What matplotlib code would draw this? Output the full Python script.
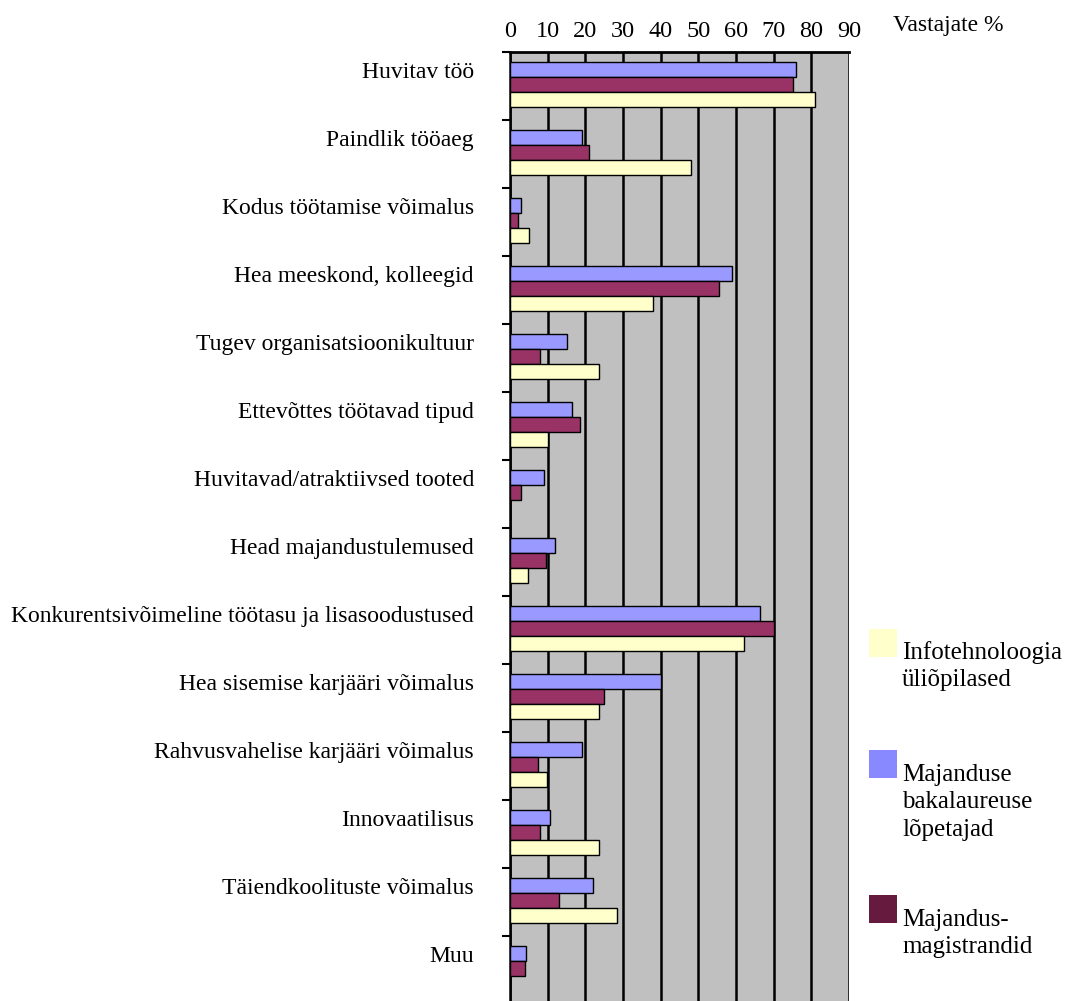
import numpy as np
import matplotlib
matplotlib.use("Agg")
import matplotlib.pyplot as plt
from matplotlib.patches import Rectangle

plt.rcParams['font.family'] = ['Liberation Serif', 'DejaVu Serif']

categories = [
    'Huvitav töö',
    'Paindlik tööaeg',
    'Kodus töötamise võimalus',
    'Hea meeskond, kolleegid',
    'Tugev organisatsioonikultuur',
    'Ettevõttes töötavad tipud',
    'Huvitavad/atraktiivsed tooted',
    'Head majandustulemused',
    'Konkurentsivõimeline töötasu ja lisasoodustused',
    'Hea sisemise karjääri võimalus',
    'Rahvusvahelise karjääri võimalus',
    'Innovaatilisus',
    'Täiendkoolituste võimalus',
    'Muu',
]

# vastajate % rühmade kaupa
bakalaureus = [76, 19, 3, 59, 15, 16.5, 9, 12, 66.5, 40, 19, 10.5, 22, 4.2]
magistrandid = [75, 21, 2, 55.5, 8, 18.5, 3, 9.5, 70, 25, 7.5, 8, 13, 4]
it_tudengid = [81, 48, 5, 38, 23.5, 10, 0, 4.7, 62, 23.5, 9.7, 23.5, 28.5, 0]

legend_labels = ['Infotehnoloogia\nüliõpilased',
                 'Majanduse\nbakalaureuse\nlõpetajad',
                 'Majandus-\nmagistrandid']

c_blue = '#9999ff'
c_maroon = '#993366'
c_yellow = '#ffffcc'

W, H = 1065, 1001
fig = plt.figure(figsize=(W / 100, H / 100), dpi=100)
ax = fig.add_axes([510 / W, 1 - 1004 / H, 339 / W, 952 / H])
ax.set_facecolor('#c0c0c0')

y = np.arange(len(categories))
h = 0.215
ax.barh(y - 0.24, bakalaureus, height=h, color=c_blue, edgecolor='black', linewidth=1, zorder=3)
ax.barh(y - 0.02, magistrandid, height=h, color=c_maroon, edgecolor='black', linewidth=1, zorder=3)
ax.barh(y + 0.20, it_tudengid, height=h, color=c_yellow, edgecolor='black', linewidth=1, zorder=3)

ax.set_xlim(0, 90)
ax.set_ylim(len(categories) - 0.5, -0.5)

ax.xaxis.tick_top()
ax.set_xticks(np.arange(0, 91, 10))
ax.tick_params(axis='x', length=0, pad=7, labelsize=17.5)
ax.grid(axis='x', color='black', linewidth=1.8, zorder=1)

# rühmade piirid vasakul, sildid sinise tulba kõrgusel
ax.set_yticks(np.arange(len(categories) + 1) - 0.5)
ax.set_yticklabels([])
ax.tick_params(axis='y', which='major', length=6, width=1.5, direction='out')
ax.set_yticks(y - 0.24, minor=True)
ax.set_yticklabels(categories, minor=True)
ax.tick_params(axis='y', which='minor', length=0, pad=26, labelsize=17)

for side in ['right', 'bottom']:
    ax.spines[side].set_visible(False)
ax.spines['top'].set_linewidth(2)
ax.spines['left'].set_linewidth(1.8)

fig.text(893 / W, 1 - 25 / H, 'Vastajate %', fontsize=17, va='center', ha='left')

# legend
legend_colors = [c_yellow, '#8888ff', '#661a3d']
box_tops = [629, 750, 895]
text_tops = [641, 764, 909]
for col, lab, top, ttop in zip(legend_colors, legend_labels, box_tops, text_tops):
    fig.patches.append(Rectangle((869 / W, 1 - (top + 28) / H), 28 / W, 28 / H,
                                 transform=fig.transFigure, facecolor=col,
                                 edgecolor='none'))
    fig.text(902 / W, 1 - ttop / H, lab, fontsize=18, va='top', ha='left',
             linespacing=1.32)

fig.savefig('out.png', dpi=100)
